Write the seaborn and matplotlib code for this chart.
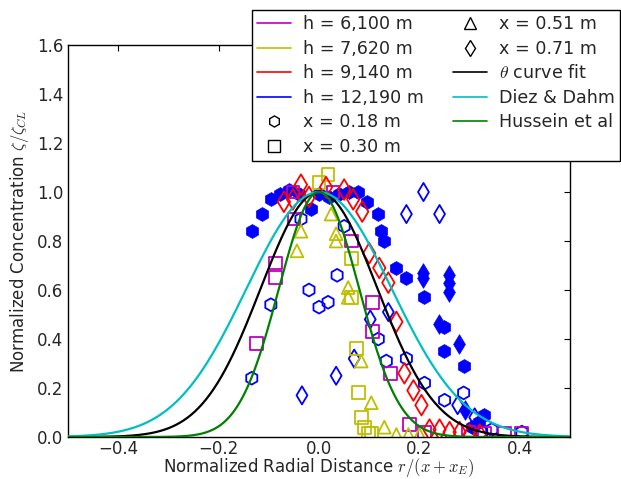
import numpy as np
import matplotlib
matplotlib.use("Agg")
import matplotlib.pyplot as plt
from matplotlib.lines import Line2D
import seaborn as sns

# h = 6,100 m, x = 0.30 m (squares)
m_sq_x = [-0.124, -0.086, -0.086, -0.05, -0.052, 0.028, 0.064, 0.106, 0.106, 0.142, 0.18, 0.21, 0.298, 0.33, 0.37, 0.404]
m_sq_y = [0.38, 0.65, 0.71, 0.89, 1.0, 1.0, 0.80, 0.55, 0.43, 0.26, 0.05, 0.02, 0.02, 0.015, 0.015, 0.015]

# h = 7,620 m, x = 0.30 m (squares)
y_sq_x = [0.0, 0.018, 0.064, 0.064, 0.074, 0.078, 0.084, 0.09, 0.098, 0.104]
y_sq_y = [1.04, 1.07, 0.73, 0.57, 0.36, 0.18, 0.08, 0.04, 0.016, 0.016]

# h = 7,620 m, x = 0.51 m (triangles)
y_tr_x = [-0.044, -0.036, 0.024, 0.034, 0.034, 0.058, 0.058, 0.084, 0.104, 0.13, 0.154, 0.178, 0.2]
y_tr_y = [0.76, 0.84, 0.91, 0.83, 0.80, 0.61, 0.57, 0.31, 0.14, 0.04, 0.01, 0.01, 0.01]

# h = 9,140 m, x = 0.71 m (diamonds)
r_di_x = [-0.07, -0.052, -0.036, -0.02, 0.014, 0.05, 0.068, 0.086, 0.1, 0.12, 0.138, 0.154, 0.17, 0.188,
          0.204, 0.22, 0.24, 0.26, 0.28, 0.30, 0.32]
r_di_y = [0.96, 0.97, 1.03, 0.98, 1.02, 1.01, 0.97, 0.92, 0.75, 0.69, 0.63, 0.47, 0.26, 0.19,
          0.13, 0.03, 0.03, 0.02, 0.02, 0.01, 0.01]

# h = 12,190 m, x = 0.18 m (open hexagons)
b_hx_x = [-0.134, -0.096, -0.036, -0.02, 0.0, 0.018, 0.036, 0.05, 0.118, 0.134, 0.174, 0.21, 0.25, 0.288, 0.324, 0.344, 0.404]
b_hx_y = [0.24, 0.54, 0.89, 0.60, 0.53, 0.55, 0.66, 0.86, 0.40, 0.31, 0.32, 0.22, 0.15, 0.18, 0.02, 0.03, 0.02]

# h = 12,190 m, x = 0.71 m (open diamonds)
b_di_x = [-0.034, 0.034, 0.07, 0.102, 0.138, 0.174, 0.208, 0.24, 0.276, 0.31]
b_di_y = [0.17, 0.25, 0.32, 0.48, 0.51, 0.91, 1.0, 0.91, 0.13, 0.08]

# h = 12,190 m, filled hexagons
bf_hx_x = [-0.134, -0.114, -0.096, -0.078, -0.06, -0.04, -0.016, 0.0, 0.02, 0.04, 0.06, 0.078, 0.096,
           0.118, 0.124, 0.13, 0.154, 0.174, 0.21, 0.248, 0.248, 0.288, 0.304, 0.318, 0.328]
bf_hx_y = [0.84, 0.91, 0.97, 0.99, 1.01, 0.99, 0.93, 0.99, 0.98, 0.99, 1.0, 1.0, 0.96,
           0.91, 0.84, 0.80, 0.69, 0.65, 0.57, 0.45, 0.35, 0.29, 0.04, 0.06, 0.09]

# h = 12,190 m, filled diamonds
bf_di_x = [0.208, 0.208, 0.238, 0.258, 0.258, 0.258, 0.278, 0.29]
bf_di_y = [0.67, 0.65, 0.46, 0.66, 0.63, 0.59, 0.38, 0.11]

# Gaussian profile coefficients exp(-k r^2)
k_fit = 37.0
k_diez = 24.0
k_hussein = 78.4

r = np.linspace(-0.5, 0.5, 401)

sns.set_style("white", {"xtick.direction": "in", "ytick.direction": "in",
                        "xtick.top": True, "ytick.right": True,
                        "axes.edgecolor": "black"})
plt.rcParams["font.family"] = ["DejaVu Sans"]
plt.rcParams["mathtext.fontset"] = "cm"

fig = plt.figure(figsize=(6.21, 4.79), dpi=100)
ax = fig.add_axes([0.1095, 0.0877, 0.8085, 0.8183])

M, Y, R, B = (0.75, 0, 0.75), (0.75, 0.75, 0), (1, 0, 0), (0, 0, 1)
C, G, K = (0, 0.75, 0.75), (0, 0.5, 0), "k"

def open_pts(xs, ys, color, marker, s=85):
    sns.scatterplot(x=xs, y=ys, marker=marker, s=s, facecolors="none",
                    edgecolor=color, linewidth=1.3, ax=ax, legend=False, zorder=2)

def filled_pts(xs, ys, marker, s=100):
    sns.scatterplot(x=xs, y=ys, marker=marker, s=s, color=B,
                    edgecolor=B, linewidth=0.5, ax=ax, legend=False, zorder=2)

filled_pts(bf_hx_x, bf_hx_y, "h")
filled_pts(bf_di_x, bf_di_y, "d")
open_pts(b_hx_x, b_hx_y, B, "h")
open_pts(b_di_x, b_di_y, B, "d")
open_pts(m_sq_x, m_sq_y, M, "s")
open_pts(y_sq_x, y_sq_y, Y, "s")
open_pts(y_tr_x, y_tr_y, Y, "^")
open_pts(r_di_x, r_di_y, R, "d", s=110)

sns.lineplot(x=r, y=np.exp(-k_fit * r**2), color=K, lw=1.6, ax=ax, zorder=3)
sns.lineplot(x=r, y=np.exp(-k_diez * r**2), color=C, lw=1.6, ax=ax, zorder=3)
sns.lineplot(x=r, y=np.exp(-k_hussein * r**2), color=G, lw=1.6, ax=ax, zorder=3)

ax.set_xlim(-0.5, 0.5)
ax.set_ylim(0, 1.6)
ax.set_xticks([-0.4, -0.2, 0.0, 0.2, 0.4])
ax.set_yticks(np.arange(0, 1.61, 0.2))
ax.tick_params(labelsize=12, direction="in", top=True, right=True, color="black", length=4)
ax.tick_params(axis="x", pad=2)
ax.set_xlabel(r"Normalized Radial Distance $r/(x+x_E)$", fontsize=12, labelpad=-1)
ax.set_ylabel(r"Normalized Concentration $\zeta/\zeta_{CL}$", fontsize=12)
for sp in ax.spines.values():
    sp.set_color("black")
    sp.set_linewidth(1.0)

handles = [
    Line2D([], [], color=M, lw=1.2, label="h = 6,100 m"),
    Line2D([], [], color=Y, lw=1.2, label="h = 7,620 m"),
    Line2D([], [], color=R, lw=1.2, label="h = 9,140 m"),
    Line2D([], [], color=B, lw=1.2, label="h = 12,190 m"),
    Line2D([], [], ls="none", marker="h", mfc="none", mec="k", ms=8, label="x = 0.18 m"),
    Line2D([], [], ls="none", marker="s", mfc="none", mec="k", ms=8, label="x = 0.30 m"),
    Line2D([], [], ls="none", marker="^", mfc="none", mec="k", ms=8, label="x = 0.51 m"),
    Line2D([], [], ls="none", marker="d", mfc="none", mec="k", ms=8, label="x = 0.71 m"),
    Line2D([], [], color=K, lw=1.2, label=r"$\theta$ curve fit"),
    Line2D([], [], color=C, lw=1.2, label="Diez & Dahm"),
    Line2D([], [], color=G, lw=1.2, label="Hussein et al"),
]
leg = ax.legend(handles=handles, ncol=2, loc="upper right", fontsize=12.6,
                bbox_to_anchor=(620 / 621, 1 - 10 / 479), bbox_transform=fig.transFigure,
                borderaxespad=0, frameon=True, fancybox=False, framealpha=1,
                edgecolor="black", labelspacing=0.37, columnspacing=1.7,
                handletextpad=0.7, borderpad=0.3, handlelength=1.9)
leg.get_frame().set_linewidth(1.0)

fig.savefig("out.png", dpi=100)
